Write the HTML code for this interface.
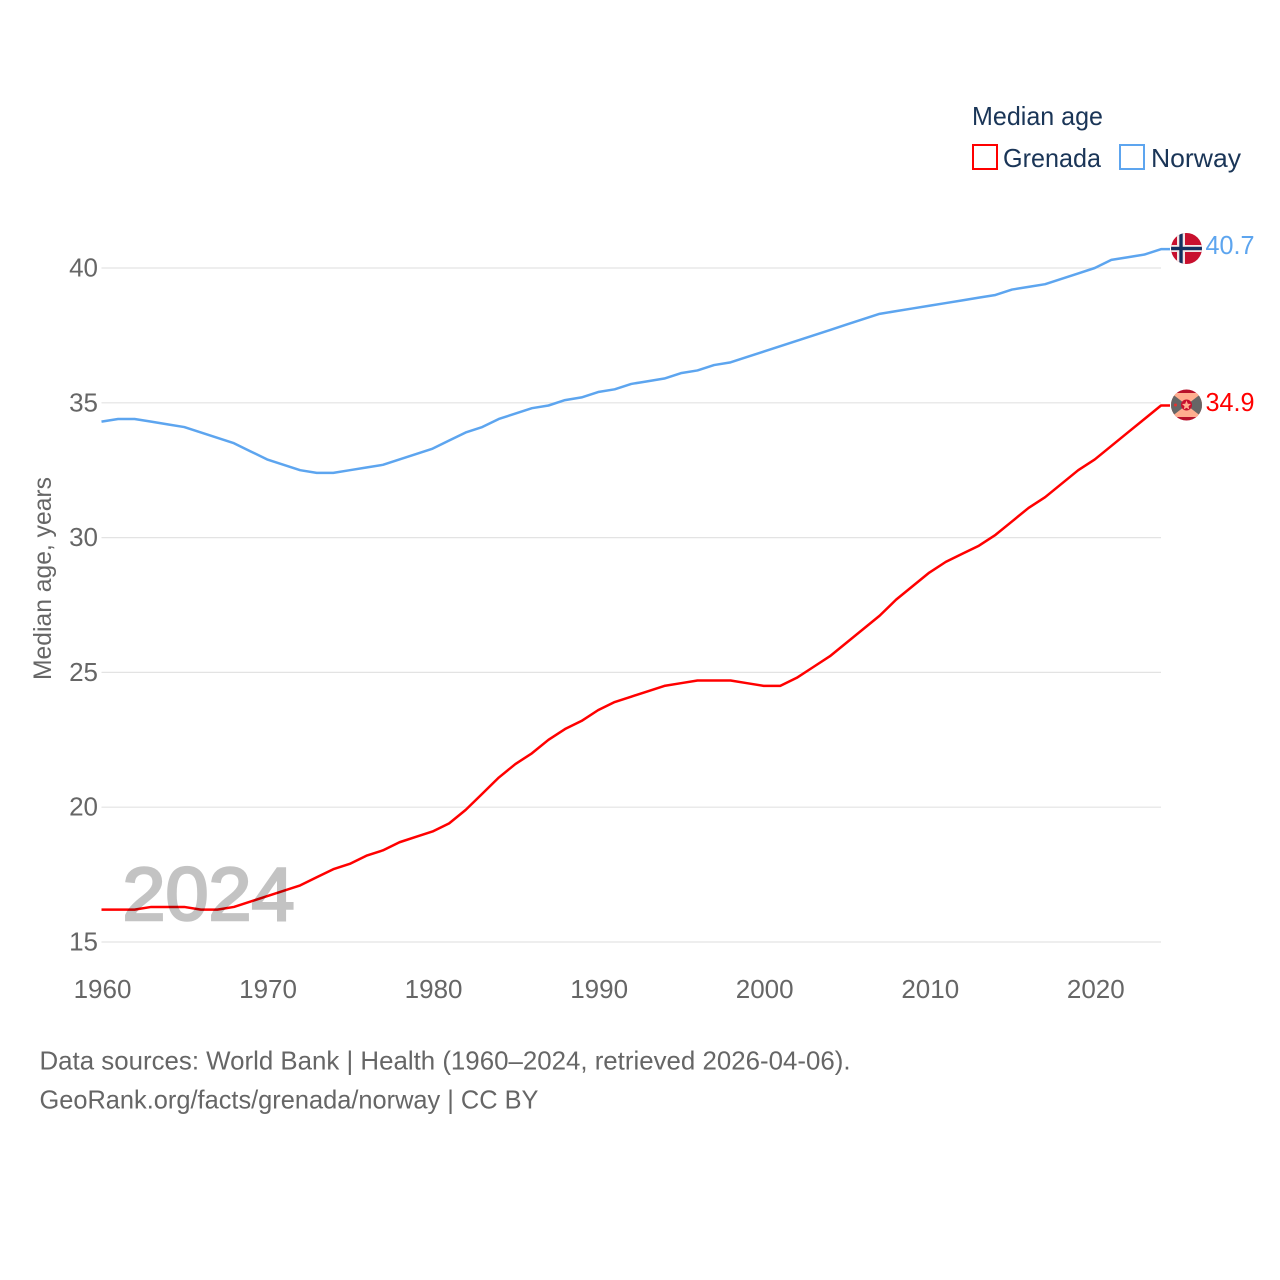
<!DOCTYPE html>
<html>
<head>
<meta charset="utf-8">
<style>
html,body{margin:0;padding:0;background:#fff;}
svg{display:block;font-family:"Liberation Sans",sans-serif;}
</style>
</head>
<body>
<svg id="chart" width="1280" height="1280" viewBox="0 0 1280 1280" xmlns="http://www.w3.org/2000/svg">
<defs>
<clipPath id="flag-clip-no"><circle cx="1186.5" cy="248.5" r="15.5"/></clipPath>
<clipPath id="flag-clip-gd"><circle cx="1186.5" cy="405" r="15.5"/></clipPath>
</defs>
<rect width="1280" height="1280" fill="#fff"/>
<g id="grid"></g>
<g id="yticks"></g>
<g id="xticks"></g>
<text transform="translate(51,680) rotate(-90)" font-size="25" fill="#666" textLength="203" lengthAdjust="spacingAndGlyphs">Median age, years</text>
<g id="series"></g>
<g opacity="0.23">
<text x="122.5" y="920" font-size="75" font-weight="400" fill="#000" stroke="#000" stroke-width="2.6" textLength="172" lengthAdjust="spacingAndGlyphs">2024</text>
</g>

<g>
<text x="972" y="125" font-size="26" fill="#1a3557" textLength="131" lengthAdjust="spacingAndGlyphs">Median age</text>
<g>
<rect x="973" y="145" width="24" height="24" fill="none" stroke="#ff0000" stroke-width="2"/>
<text x="1003" y="167" font-size="26" fill="#1a3557" textLength="98" lengthAdjust="spacingAndGlyphs">Grenada</text>
</g>
<g>
<rect x="1120" y="145" width="24" height="24" fill="none" stroke="#5da5ef" stroke-width="2"/>
<text x="1151" y="167" font-size="26" fill="#1a3557" textLength="90" lengthAdjust="spacingAndGlyphs">Norway</text>
</g>
</g>

<g clip-path="url(#flag-clip-no)">
<rect x="1171" y="233" width="31" height="31" fill="#c8102e"/>
<rect x="1171" y="245" width="31" height="7" fill="#f4e6e6"/>
<rect x="1177" y="233" width="8" height="31" fill="#f4e6e6"/>
<rect x="1171" y="246.8" width="31" height="3.4" fill="#14305f"/>
<rect x="1179.300" y="233" width="3.4" height="31" fill="#14305f"/>
</g>

<g clip-path="url(#flag-clip-gd)">
<rect x="1171" y="389" width="31" height="32" fill="#b8122a"/>
<rect x="1171" y="393" width="31" height="24" fill="#ffae8f"/>
<polygon points="1171,393 1186.5,405 1171,417" fill="#666"/>
<polygon points="1202,393 1186.5,405 1202,417" fill="#666"/>
<circle cx="1186.5" cy="405" r="5.5" fill="#c8102e"/>
<polygon points="1186.5,400.5 1187.8,403.8 1191,404 1188.5,406.2 1189.3,409.5 1186.5,407.7 1183.7,409.5 1184.5,406.2 1182,404 1185.2,403.800" fill="#ffae8f"/>
<circle cx="1175.500" cy="405" r="1.500" fill="#e8302e"/>
</g>

<text x="1205.500" y="254" font-size="26" fill="#5da5ef" textLength="49" lengthAdjust="spacingAndGlyphs">40.7</text>
<text x="1205.500" y="411" font-size="26" fill="#ff0000" textLength="49" lengthAdjust="spacingAndGlyphs">34.9</text>

<g>
<text x="39.500" y="1069.500" font-size="26" fill="#666" textLength="811" lengthAdjust="spacingAndGlyphs">Data sources: World Bank | Health (1960–2024, retrieved 2026-04-06).</text>
<text x="39.500" y="1108.500" font-size="26" fill="#666" textLength="499" lengthAdjust="spacingAndGlyphs">GeoRank.org/facts/grenada/norway | CC BY</text>
</g>
</svg>
<script>
const startYear = 1960;
const norway = [34.3,34.4,34.4,34.3,34.2,34.1,33.9,33.7,33.5,33.2,32.9,32.7,32.5,32.4,32.4,32.5,32.6,32.7,32.9,33.1,33.3,33.6,33.9,34.1,34.4,34.6,34.8,34.9,35.1,35.2,35.4,35.5,35.7,35.8,35.9,36.1,36.2,36.4,36.5,36.7,36.9,37.1,37.3,37.5,37.7,37.9,38.1,38.3,38.4,38.5,38.6,38.7,38.8,38.9,39.0,39.2,39.3,39.4,39.6,39.8,40.0,40.3,40.4,40.5,40.7];
const grenada = [16.2,16.2,16.2,16.3,16.3,16.3,16.2,16.2,16.3,16.5,16.7,16.9,17.1,17.4,17.7,17.9,18.2,18.4,18.7,18.9,19.1,19.4,19.9,20.5,21.1,21.6,22.0,22.5,22.9,23.2,23.6,23.9,24.1,24.3,24.5,24.6,24.7,24.7,24.7,24.6,24.5,24.5,24.8,25.2,25.6,26.1,26.6,27.1,27.7,28.2,28.7,29.1,29.4,29.7,30.1,30.6,31.1,31.5,32.0,32.5,32.9,33.4,33.9,34.4,34.9];
const yTickValues = [15,20,25,30,35,40];
const xTickValues = [1960,1970,1980,1990,2000,2010,2020];

const NS = 'http://www.w3.org/2000/svg';
function xScale(year){ return 101.5 + (year - 1960) * (1161 - 101.5) / 64; }
function yScale(v){ return 942 - (v - 15) * (942 - 268) / 25; }

const gridG = document.getElementById('grid');
const yG = document.getElementById('yticks');
const xG = document.getElementById('xticks');
const seriesG = document.getElementById('series');

yTickValues.forEach(function(v){
  const line = document.createElementNS(NS,'line');
  
  
  line.setAttribute('x1', xScale(1960));
  line.setAttribute('x2', xScale(2024));
  line.setAttribute('y1', yScale(v));
  line.setAttribute('y2', yScale(v));
  line.setAttribute('stroke', '#e3e3e3');
  line.setAttribute('stroke-width', '1.2');
  gridG.appendChild(line);
  const t = document.createElementNS(NS,'text');
  
  
  t.setAttribute('x', 98);
  t.setAttribute('y', yScale(v) + 8.5);
  t.setAttribute('text-anchor', 'end');
  t.setAttribute('font-size', '26');
  t.setAttribute('fill', '#666');
  t.textContent = v;
  yG.appendChild(t);
});

xTickValues.forEach(function(y){
  const t = document.createElementNS(NS,'text');
  
  
  t.setAttribute('x', xScale(y) + 1);
  t.setAttribute('y', 998);
  t.setAttribute('text-anchor', 'middle');
  t.setAttribute('font-size', '26');
  t.setAttribute('fill', '#666');
  t.textContent = y;
  xG.appendChild(t);
});

function drawSeries(values, color, name){
  const pts = values.map(function(v,i){ return xScale(startYear + i).toFixed(2) + ',' + yScale(v).toFixed(2); });
  const last = values[values.length - 1];
  pts.push((xScale(startYear + values.length - 1) + 9).toFixed(2) + ',' + yScale(last).toFixed(2));
  const p = document.createElementNS(NS,'polyline');
  
  
  p.setAttribute('points', pts.join(' '));
  p.setAttribute('fill', 'none');
  p.setAttribute('stroke', color);
  p.setAttribute('stroke-width', '2.5');
  p.setAttribute('stroke-linejoin', 'round');
  seriesG.appendChild(p);
}
drawSeries(norway, '#5da5ef', 'norway-line');
drawSeries(grenada, '#ff0000', 'grenada-line');
</script>
</body>
</html>
